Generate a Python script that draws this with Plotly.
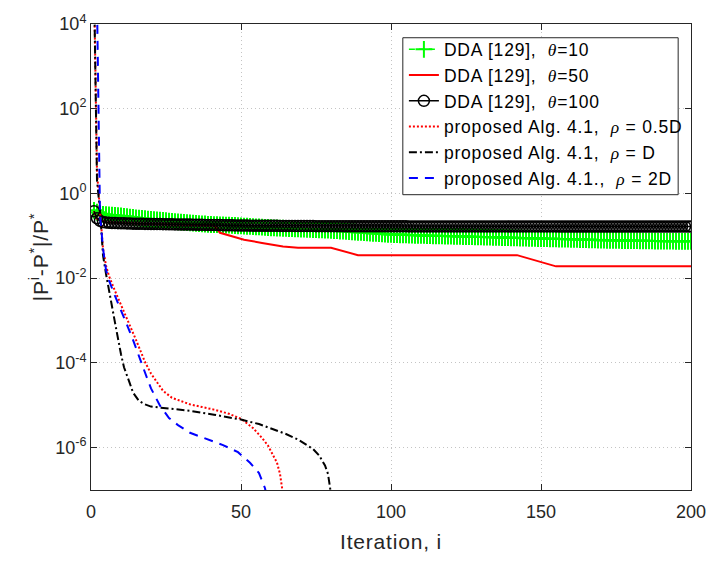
import plotly.graph_objects as go

# ---------------- data ----------------
iters = list(range(1, 201))

# DDA [129], theta = 10  (green, --+ every iteration)
dda10 = [
    0.400, 0.360, 0.330, 0.322, 0.315, 0.311, 0.307, 0.303, 0.299, 0.295,
    0.289, 0.283, 0.277, 0.271, 0.265, 0.261, 0.257, 0.253, 0.249, 0.245,
    0.241, 0.237, 0.234, 0.230, 0.227, 0.223, 0.220, 0.216, 0.213, 0.210,
    0.207, 0.204, 0.201, 0.199, 0.196, 0.194, 0.192, 0.190, 0.187, 0.185,
    0.184, 0.183, 0.181, 0.180, 0.179, 0.178, 0.176, 0.175, 0.173, 0.172,
    0.170, 0.168, 0.167, 0.165, 0.163, 0.162, 0.160, 0.158, 0.157, 0.155,
    0.154, 0.153, 0.152, 0.151, 0.150, 0.149, 0.148, 0.147, 0.146, 0.145,
    0.144, 0.143, 0.142, 0.141, 0.140, 0.139, 0.138, 0.137, 0.136, 0.135,
    0.133, 0.132, 0.130, 0.129, 0.127, 0.126, 0.124, 0.123, 0.121, 0.120,
    0.119, 0.118, 0.116, 0.115, 0.114, 0.113, 0.112, 0.110, 0.109, 0.108,
    0.107, 0.107, 0.106, 0.106, 0.105, 0.104, 0.104, 0.103, 0.103, 0.102,
    0.102, 0.101, 0.101, 0.100, 0.100, 0.0996, 0.0992, 0.0988, 0.0984, 0.0980,
    0.0976, 0.0972, 0.0968, 0.0964, 0.0960, 0.0956, 0.0952, 0.0948, 0.0944, 0.0940,
    0.0936, 0.0932, 0.0928, 0.0924, 0.0920, 0.0916, 0.0912, 0.0908, 0.0904, 0.0900,
    0.0896, 0.0892, 0.0888, 0.0884, 0.0880, 0.0876, 0.0872, 0.0868, 0.0864, 0.0860,
    0.0857, 0.0854, 0.0851, 0.0848, 0.0845, 0.0842, 0.0839, 0.0836, 0.0833, 0.0830,
    0.0826, 0.0822, 0.0818, 0.0814, 0.0810, 0.0806, 0.0802, 0.0798, 0.0794, 0.0790,
    0.0788, 0.0786, 0.0784, 0.0782, 0.0780, 0.0778, 0.0776, 0.0774, 0.0772, 0.0770,
    0.0768, 0.0766, 0.0764, 0.0762, 0.0760, 0.0758, 0.0756, 0.0754, 0.0752, 0.0750,
    0.0749, 0.0748, 0.0747, 0.0746, 0.0745, 0.0744, 0.0743, 0.0742, 0.0741, 0.0740,
]

# DDA [129], theta = 50  (red solid)
dda50_x = [1, 2, 5, 10, 20, 30, 41, 43, 51, 57, 64, 69, 80, 89, 142, 155, 200]
dda50_y = [0.38, 0.25, 0.21, 0.20, 0.19, 0.185, 0.175, 0.118, 0.081, 0.068,
           0.056, 0.052, 0.052, 0.035, 0.035, 0.019, 0.019]

# DDA [129], theta = 100  (black -o every iteration)
dda100 = [
    0.380, 0.260, 0.225, 0.212, 0.206, 0.203, 0.201, 0.200, 0.199, 0.198,
    0.197, 0.196, 0.195, 0.194, 0.193, 0.193, 0.192, 0.191, 0.191, 0.190,
    0.190, 0.189, 0.189, 0.188, 0.188, 0.187, 0.187, 0.186, 0.186, 0.185,
    0.185, 0.184, 0.184, 0.183, 0.183, 0.182, 0.182, 0.181, 0.181, 0.180,
    0.180, 0.179, 0.179, 0.178, 0.178, 0.177, 0.177, 0.176, 0.176, 0.175,
    0.175, 0.175, 0.174, 0.174, 0.174, 0.173, 0.173, 0.173, 0.172, 0.172,
    0.172, 0.172, 0.171, 0.171, 0.171, 0.171, 0.171, 0.170, 0.170, 0.170,
    0.170, 0.170, 0.170, 0.170, 0.169, 0.169, 0.169, 0.169, 0.169, 0.169,
    0.169, 0.169, 0.169, 0.169, 0.168, 0.168, 0.168, 0.168, 0.168, 0.168,
    0.168, 0.168, 0.168, 0.168, 0.168, 0.168, 0.168, 0.168, 0.168, 0.168,
    0.168, 0.168, 0.168, 0.168, 0.168, 0.167, 0.167, 0.167, 0.167, 0.167,
    0.167, 0.167, 0.167, 0.167, 0.167, 0.167, 0.167, 0.167, 0.167, 0.167,
    0.167, 0.167, 0.167, 0.167, 0.167, 0.167, 0.167, 0.167, 0.167, 0.167,
    0.167, 0.167, 0.167, 0.167, 0.167, 0.167, 0.167, 0.167, 0.167, 0.167,
    0.167, 0.167, 0.167, 0.167, 0.167, 0.167, 0.167, 0.167, 0.167, 0.167,
    0.167, 0.167, 0.167, 0.167, 0.167, 0.166, 0.166, 0.166, 0.166, 0.166,
    0.166, 0.166, 0.166, 0.166, 0.166, 0.166, 0.166, 0.166, 0.166, 0.166,
    0.166, 0.166, 0.166, 0.166, 0.166, 0.166, 0.166, 0.166, 0.166, 0.166,
    0.166, 0.166, 0.166, 0.166, 0.166, 0.166, 0.166, 0.166, 0.166, 0.166,
    0.166, 0.166, 0.166, 0.166, 0.166, 0.166, 0.166, 0.166, 0.166, 0.166,
]

# proposed Alg. 4.1, rho = 0.5D (red dotted)
p05_x = [1, 2, 3, 4, 5, 6, 8, 10, 11, 13, 15, 18, 20, 22, 24, 27, 30, 33, 37,
         41, 46, 50, 54, 57, 59, 61, 62, 63, 64]
p05_y = [1e5, 3.2, 0.40, 0.05, 0.02, 0.0112, 5.0e-3, 2.4e-3, 1.6e-3, 7.6e-4,
         3.5e-4, 1.05e-4, 5.6e-5, 3.5e-5, 2.2e-5, 1.5e-5, 1.23e-5, 1.05e-5,
         9.1e-6, 7.9e-6, 6.3e-6, 4.8e-6, 2.9e-6, 1.7e-6, 1.12e-6, 6.3e-7,
         4.4e-7, 2.4e-7, 8e-8]

# proposed Alg. 4.1, rho = D (black dash-dot)
p1_x = [1, 2, 3, 4, 5, 6, 8, 10, 11, 13, 14, 16, 18, 20, 25, 33, 41, 50, 56,
        61, 65, 69, 72, 74, 76, 78, 79, 80]
p1_y = [1e5, 2.0, 0.40, 0.035, 0.0126, 5.0e-3, 8.9e-4, 1.6e-4, 7.9e-5,
        3.2e-5, 2.0e-5, 1.26e-5, 1.05e-5, 9.3e-6, 8.5e-6, 7.4e-6, 6.0e-6,
        4.6e-6, 3.6e-6, 2.7e-6, 2.1e-6, 1.55e-6, 1.17e-6, 9.3e-7, 6.6e-7,
        3.8e-7, 2.4e-7, 8e-8]

# proposed Alg. 4.1., rho = 2D (blue dashed)
p2_x = [1, 2, 3, 4, 5, 6, 8, 10, 12, 14, 16, 17, 19, 20, 21, 23, 26, 29, 33,
        39, 44, 49, 53, 56, 58, 59]
p2_y = [1e7, 3.2e4, 0.32, 0.05, 0.0158, 8.9e-3, 3.8e-3, 1.8e-3, 7.9e-4,
        3.5e-4, 1.4e-4, 8.5e-5, 3.8e-5, 2.5e-5, 1.8e-5, 9.8e-6, 5.0e-6,
        3.4e-6, 2.24e-6, 1.58e-6, 1.15e-6, 7.8e-7, 4.4e-7, 2.5e-7, 1.1e-7, 5e-8]

x_ticks = [0, 50, 100, 150, 200]
y_ticks = [1e-6, 1e-4, 1e-2, 1e0, 1e2, 1e4]
y_ticktext = ["10<sup>-6</sup>", "10<sup>-4</sup>", "10<sup>-2</sup>",
              "10<sup>0</sup>", "10<sup>2</sup>", "10<sup>4</sup>"]

# ---------------- figure ----------------
FONT = "Liberation Sans, Arial, Helvetica, sans-serif"
AX = "#262626"
TH = "<span style=\"font-family:'Liberation Serif'\"><i>θ</i></span>"
RH = "<span style=\"font-family:'Liberation Serif'\"><i>ρ</i></span>"


def wide(txt, ls):
    return f"<span style=\"letter-spacing:{ls}px\">{txt}</span>"


LS = 0.8

fig = go.Figure()
fig.add_trace(go.Scatter(
    x=iters, y=dda10, mode="lines+markers",
    name=wide(f"DDA [129],  {TH}=10", LS),
    line=dict(color="#00ff00", width=1.5, dash="6px,4px"),
    marker=dict(symbol="cross-thin-open", size=12,
                line=dict(color="#00ff00", width=2), color="#00ff00"),
))
fig.add_trace(go.Scatter(
    x=dda50_x, y=dda50_y, mode="lines",
    name=wide(f"DDA [129],  {TH}=50", LS),
    line=dict(color="#ff0000", width=2),
))
fig.add_trace(go.Scatter(
    x=iters, y=dda100, mode="lines+markers",
    name=wide(f"DDA [129],  {TH}=100", LS),
    line=dict(color="#000000", width=1.5),
    marker=dict(symbol="circle-open", size=11,
                line=dict(color="#000000", width=1.5), color="#000000"),
))
fig.add_trace(go.Scatter(
    x=p05_x, y=p05_y, mode="lines",
    name=wide(f"proposed Alg. 4.1,  {RH} = 0.5D", LS),
    line=dict(color="#ff0000", width=2, dash="2px,2px"),
))
fig.add_trace(go.Scatter(
    x=p1_x, y=p1_y, mode="lines",
    name=wide(f"proposed Alg. 4.1,  {RH} = D", LS),
    line=dict(color="#000000", width=2, dash="8px,3px,2px,3px"),
))
fig.add_trace(go.Scatter(
    x=p2_x, y=p2_y, mode="lines",
    name=wide(f"proposed Alg. 4.1.,  {RH} = 2D", LS),
    line=dict(color="#0000ff", width=2, dash="9px,7px"),
))

# legend frame (white box with dark border, drawn above the data)
fig.add_shape(
    type="rect", xref="paper", yref="paper",
    x0=0.5197, x1=0.9786, y0=0.6337, y1=0.9705,
    line=dict(color=AX, width=1), fillcolor="white", layer="above",
)

fig.update_layout(
    width=718, height=562,
    margin=dict(l=91, r=19, t=15, b=72),
    paper_bgcolor="white", plot_bgcolor="white",
    font=dict(family=FONT, size=17, color=AX),
    showlegend=True,
    legend=dict(
        x=0.5215, y=0.984, xanchor="left", yanchor="top",
        bgcolor="rgba(0,0,0,0)", borderwidth=0,
        font=dict(family=FONT, size=17.5, color="#000000"),
        itemwidth=30, tracegroupgap=0,
    ),
)
fig.update_xaxes(
    range=[0, 200], tickvals=x_ticks,
    showline=True, linecolor=AX, linewidth=1, mirror="ticks",
    ticks="inside", ticklen=6, tickcolor=AX,
    showgrid=True, gridcolor="#c4c4c4", griddash="1px,3px", gridwidth=1,
    zeroline=False, ticklabelstandoff=5,
    tickfont=dict(family=FONT, size=18, color=AX),
    title=dict(text=wide("Iteration, i", 0.8),
               font=dict(family=FONT, size=21, color=AX), standoff=13),
)
fig.update_yaxes(
    type="log", range=[-7, 4], tickvals=y_ticks, ticktext=y_ticktext,
    showline=True, linecolor=AX, linewidth=1, mirror="ticks",
    ticks="inside", ticklen=6, tickcolor=AX,
    showgrid=True, gridcolor="#c4c4c4", griddash="1px,3px", gridwidth=1,
    zeroline=False,
    tickfont=dict(family=FONT, size=18, color=AX),
    title=dict(text=wide("|P<sup>i</sup>-P<sup>*</sup>|/P<sup>*</sup>", 0.8),
               font=dict(family=FONT, size=21, color=AX), standoff=0),
)

fig.write_html("out.html")
